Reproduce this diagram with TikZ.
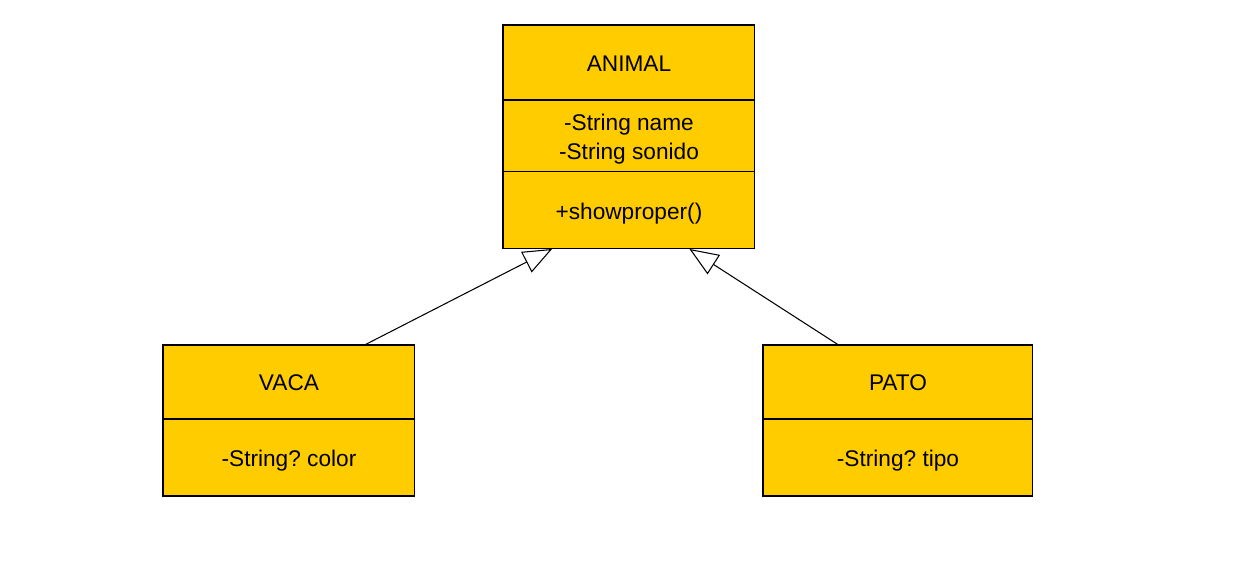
\documentclass[tikz,border=0pt]{standalone}
\usepackage{fontspec}
\setmainfont{Liberation Sans}
\usetikzlibrary{positioning,calc,arrows.meta}
\definecolor{umlyellow}{HTML}{FFCC00}
\tikzset{
  classpart/.style={draw,fill=umlyellow,line width=0.6pt,inner sep=0pt,outer sep=0pt,
    minimum width=5.04cm,align=center,text height=10.2pt,text depth=0pt,
    font=\fontsize{12.9}{16.05}\selectfont\frenchspacing},
  twolines/.style={text height=26.4pt,text depth=0pt},
  inherit/.style={line width=0.6pt,-{Triangle[open,length=5.8mm,width=4.6mm]}}
}
\begin{document}
\begin{tikzpicture}[x=0.02cm,y=-0.02cm]
\useasboundingbox (0,0) rectangle (1246,581);
\node[classpart,minimum height=1.5cm,anchor=north west](animalname)at(503,25){ANIMAL};
\node[classpart,twolines,minimum height=1.44cm,below=0pt of animalname](animalattr){-String name\\-String sonido};
\node[classpart,minimum height=1.54cm,below=0pt of animalattr](animalops){+showproper()};
\node[classpart,minimum height=1.48cm,anchor=north west](vacahead)at(163,345){VACA};
\node[classpart,minimum height=1.54cm,below=0pt of vacahead](vacaattr){-String? color};
\node[classpart,minimum width=5.4cm,minimum height=1.48cm,anchor=north west](patohead)at(763,345){PATO};
\node[classpart,minimum width=5.4cm,minimum height=1.54cm,below=0pt of patohead](patoattr){-String? tipo};
\draw[inherit]($(vacahead.north)!0.6!(vacahead.north east)$)--($(animalops.south)!0.61!(animalops.south west)$);
\draw[inherit]($(patohead.north)!0.44!(patohead.north west)$)--($(animalops.south)!0.48!(animalops.south east)$);
\end{tikzpicture}
\end{document}
